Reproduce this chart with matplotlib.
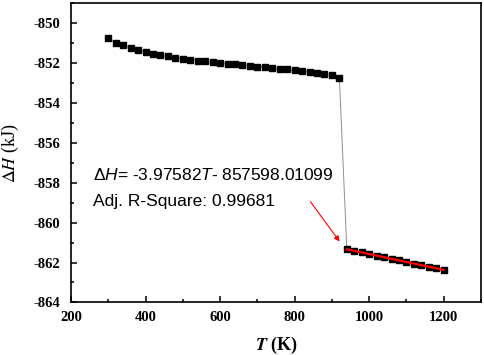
import matplotlib
matplotlib.use("Agg")
import matplotlib.pyplot as plt
from matplotlib.ticker import MultipleLocator

plt.rcParams['mathtext.fontset'] = 'custom'
plt.rcParams['mathtext.rm'] = 'Liberation Sans'
plt.rcParams['mathtext.it'] = 'Liberation Sans:italic'
plt.rcParams['mathtext.bf'] = 'Liberation Sans:bold'

# Data (kJ)
T_low = [298, 320, 340, 360, 380, 400, 420, 440, 460, 480, 500, 520, 540, 560, 580, 600,
         620, 640, 660, 680, 700, 720, 740, 760, 780, 800, 820, 840, 860, 880, 900, 920]
H_low = [-850.77, -850.99, -851.11, -851.25, -851.36, -851.45, -851.53, -851.62, -851.67,
         -851.73, -851.78, -851.83, -851.88, -851.92, -851.95, -851.99, -852.04, -852.07,
         -852.11, -852.14, -852.19, -852.22, -852.26, -852.29, -852.32, -852.37, -852.42,
         -852.46, -852.51, -852.56, -852.63, -852.74]
T_high = [940, 960, 980, 1000, 1020, 1040, 1060, 1080, 1100, 1120, 1140, 1160, 1180, 1200]
H_high = [-861.34, -861.41, -861.49, -861.57, -861.65, -861.73, -861.81, -861.89, -861.97,
          -862.05, -862.13, -862.21, -862.29, -862.38]
fit_slope = -3.97582e-3
fit_intercept = -857.59801099

fig = plt.figure(figsize=(4.84, 3.55), dpi=100)
ax = fig.add_axes([0.1467, 0.148, 0.9938 - 0.1467, 0.9915 - 0.148])

T_all = T_low + T_high
H_all = H_low + H_high
ax.plot(T_all, H_all, color='#909090', lw=0.7, zorder=2)
ax.plot(T_all, H_all, ls='none', marker='s', ms=4.0, color='black', zorder=3)
fx = [T_high[0], T_high[-1]]
fy = [fit_slope * t + fit_intercept for t in fx]
ax.plot(fx, fy, color='red', lw=1.6, zorder=4)

ax.xaxis.set_major_locator(MultipleLocator(200))
ax.xaxis.set_minor_locator(MultipleLocator(100))
ax.yaxis.set_major_locator(MultipleLocator(2))
ax.yaxis.set_minor_locator(MultipleLocator(1))
ax.tick_params(which='both', direction='in', top=False, right=False, width=1.1)
ax.tick_params(which='major', length=4.5)
ax.tick_params(which='minor', length=2.5)
ax.tick_params(axis='x', which='major', pad=6)
ax.tick_params(axis='y', which='major', pad=8)
for s in ax.spines.values():
    s.set_linewidth(1.2)
ax.set_xticks([200, 400, 600, 800, 1000, 1200])
ax.set_xticklabels(['200', '400', '600', '800', '1000', '1200'],
                   fontfamily='Liberation Serif', fontweight='bold', fontsize=10.5)
ax.set_yticks([-864, -862, -860, -858, -856, -854, -852, -850])
ax.set_yticklabels(['-864', '-862', '-860', '-858', '-856', '-854', '-852', '-850'],
                   fontfamily='Liberation Serif', fontweight='bold', fontsize=10.5)
ax.set_xlim(200, 1300)
ax.set_ylim(-864, -849)

ax.set_xlabel(r'$\mathbfit{T}$ (K)', fontfamily='Liberation Serif', fontweight='bold',
              fontsize=13, math_fontfamily='stix', labelpad=8)
ax.set_ylabel(r'$\mathit{\Delta H}$ (kJ)', fontfamily='Liberation Serif',
              fontsize=13, math_fontfamily='stix', labelpad=9)

ax.text(260, -857.6, r'$\mathit{\Delta H}$= -3.97582$\mathit{T}$- 857598.01099',
        fontfamily='Liberation Sans', fontsize=12.5, va='center', ha='left')
ax.text(260, -858.95, 'Adj. R-Square: 0.99681',
        fontfamily='Liberation Sans', fontsize=12.5, va='center', ha='left')
ax.annotate('', xy=(925, -861.06), xytext=(838, -858.84),
            arrowprops=dict(arrowstyle='-|>', color='red', lw=0.8,
                            mutation_scale=8))

fig.savefig('out.png', dpi=100)
